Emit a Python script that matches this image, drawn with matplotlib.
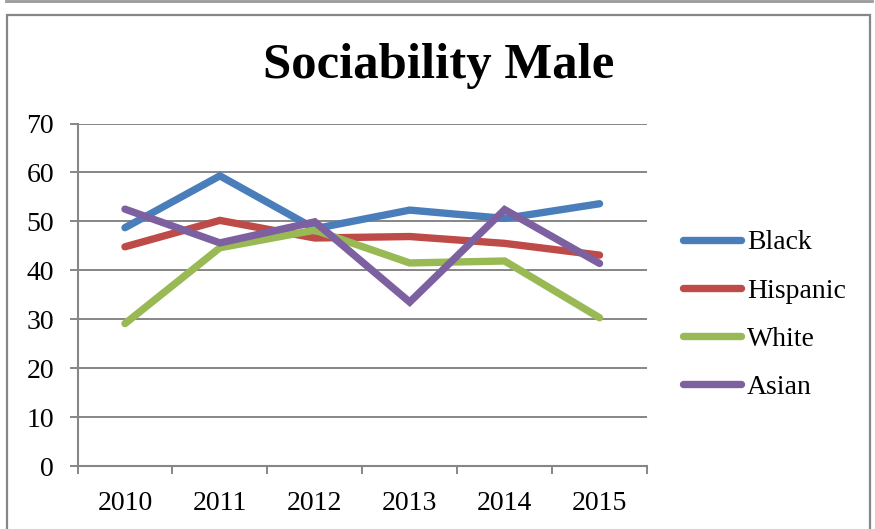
import matplotlib
matplotlib.use('Agg')
import matplotlib.pyplot as plt
from matplotlib.patches import Rectangle
from matplotlib.lines import Line2D

years = ['2010', '2011', '2012', '2013', '2014', '2015']
black = [48.7, 59.3, 48.5, 52.3, 50.6, 53.6]
hispanic = [44.8, 50.2, 46.6, 46.9, 45.5, 43.1]
white = [29.1, 44.6, 48.2, 41.5, 41.9, 30.3]
asian = [52.5, 45.6, 49.9, 33.5, 52.4, 41.4]

series = [('Black', black, '#4a7ebb'),
          ('Hispanic', hispanic, '#be4b48'),
          ('White', white, '#98b954'),
          ('Asian', asian, '#7d60a0')]

grey = '#868686'
plt.rcParams['font.family'] = ['Liberation Serif', 'DejaVu Serif']

fig = plt.figure(figsize=(8.75, 5.29), dpi=100)

# page edge at the top and the chart frame
fig.add_artist(Line2D([6 / 875, 872 / 875], [1 - 1 / 529, 1 - 1 / 529],
                      transform=fig.transFigure, color='#9a9a9a', lw=2))
fig.add_artist(Rectangle((7 / 875, -0.05), (870 - 7) / 875, 1.05 - 14.5 / 529,
                         transform=fig.transFigure, fill=False,
                         edgecolor=grey, lw=1.6))

ax = fig.add_axes([77.5 / 875, 1 - 466 / 529, (647 - 77.5) / 875, (466 - 123.5) / 529])

x = range(len(years))
for name, vals, col in series:
    ax.plot(x, vals, color=col, lw=5.3, solid_capstyle='round',
            solid_joinstyle='miter', label=name, clip_on=False)

ax.set_xlim(-0.5, len(years) - 0.5)
ax.set_ylim(0, 70)
ax.set_yticks(range(0, 71, 10))
ax.set_xticks(x)
ax.set_xticklabels(years)
ax.set_xticks([i - 0.5 for i in range(len(years) + 1)], minor=True)

ax.grid(axis='y', color=grey, lw=1.4)
ax.set_axisbelow(True)
for s in ['top', 'right']:
    ax.spines[s].set_visible(False)
for s in ['left', 'bottom']:
    ax.spines[s].set_color(grey)
    ax.spines[s].set_linewidth(1.5)

ax.tick_params(axis='y', length=5.5, width=1.4, color=grey, pad=11.5, labelsize=20)
ax.tick_params(axis='x', which='major', length=0, pad=18, labelsize=20)
ax.tick_params(axis='x', which='minor', length=5.5, width=1.4, color=grey)

fig.text(438.5 / 875, 1 - 66 / 529, 'Sociability Male', ha='center', va='center',
         fontsize=36.5, fontweight='bold')

leg = ax.legend(loc='center left', bbox_to_anchor=(683 / 875, 1 - 315 / 529),
                bbox_transform=fig.transFigure, frameon=False, fontsize=20,
                handlelength=2.1, handletextpad=0.2, labelspacing=0.82,
                borderpad=0, borderaxespad=0)

fig.savefig('out.png', dpi=100)
